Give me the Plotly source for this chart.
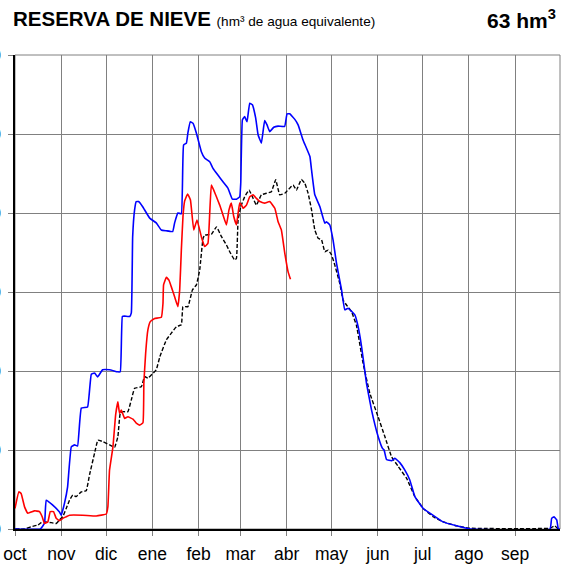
import plotly.graph_objects as go

# Day of hydrological year (0 = 1 Oct) and snow reserve in hm3
MONTH_LABELS = ["oct", "nov", "dic", "ene", "feb", "mar", "abr", "may", "jun", "jul", "ago", "sep"]
MONTH_DAYS = [0, 31, 61, 92, 123, 151, 182, 212, 243, 273, 304, 335]
YEAR_DAYS = 365
Y_TICKS = [0, 20, 40, 60, 80, 100, 120]

BLUE = [(0, 0), (17, 0), (19.8, 1.5), (20.9, 7.3), (25.1, 6.1), (29.8, 4.3), (31, 3.5), (33.2, 6.6),
        (35.2, 10.6), (37.7, 20.8), (39.9, 21.3), (41.9, 21.0), (44.4, 30.6), (48.6, 30.9), (51.1, 39.2),
        (53.3, 39.5), (55.3, 38.5), (58.7, 40.3), (63.3, 40.3), (68.7, 39.8), (70.5, 39.8), (71.9, 53.8),
        (73.4, 53.9), (76.8, 53.8), (77.9, 54.7), (78.8, 74.0), (80.1, 80.8), (81.2, 82.9), (82.8, 82.9),
        (85.5, 81.6), (90.2, 78.7), (94.6, 77.5), (98.0, 75.7), (101.3, 75.5), (105.6, 75.3), (106.9, 77.5),
        (109.1, 80.0), (111.4, 79.8), (112.9, 97.2), (114.8, 97.7), (115.8, 100.3), (117.4, 103.1),
        (119.2, 102.7), (121.5, 100.2), (124.8, 95.5), (127.0, 93.9), (130.4, 93.0), (132.6, 91.3),
        (135.9, 89.6), (139.3, 87.9), (142.6, 86.3), (145.6, 83.5), (148.3, 83.5), (150.5, 84.1),
        (151.2, 87.6), (152.3, 103.6), (153.8, 104.4), (155.4, 103.1), (157.2, 107.8), (159.0, 107.4),
        (161.2, 104.0), (162.8, 99.8), (165.0, 97.7), (167.2, 103.4), (168.8, 102.3), (170.6, 100.6),
        (173.3, 101.7), (176.2, 102.0), (180.6, 101.9), (182.2, 105.1), (184.0, 105.1), (187.4, 103.7),
        (189.6, 102.3), (192.9, 98.5), (197.5, 94.3), (198.6, 90.9), (200.8, 84.6), (204.2, 81.6),
        (207.5, 77.4), (208.6, 77.8), (210.8, 77.0), (213.0, 73.2), (215.3, 67.3), (218.7, 60.5),
        (220.9, 55.5), (223.1, 55.9), (227.6, 54.2), (229.8, 51.2), (232.1, 46.2), (235.4, 36.9),
        (238.8, 30.1), (243.2, 23.4), (246.1, 20.4), (247.2, 20.0), (248.8, 17.6), (252.2, 17.3),
        (254.4, 17.9), (257.7, 16.8), (261.1, 14.9), (264.4, 12.4), (267.8, 8.2), (273.4, 5.2),
        (277.9, 4.0), (286.6, 1.8), (295.7, 0.8), (302.4, 0.2), (304.7, 0), (358.3, 0), (359.4, 2.7),
        (361.0, 3.1), (362.8, 2.3), (363.9, 0), (365, 0)]

RED = [(0, 5.2), (2.6, 9.4), (4.1, 9.0), (6.4, 5.6), (8.6, 4.0), (13.1, 4.6), (16.4, 4.4), (18.2, 3.1),
       (19.8, 1.4), (22.0, 1.8), (23.6, 4.4), (25.8, 4.4), (27.6, 2.7), (29.8, 2.1), (32.0, 2.7),
       (34.3, 3.1), (36.5, 3.5), (45.4, 3.5), (54.4, 3.3), (61.1, 3.8), (62.2, 5.6), (63.3, 14.9),
       (65.6, 20.8), (67.4, 28.9), (68.9, 32.2), (70.0, 29.3), (71.2, 30.1), (73.4, 28.0), (75.6, 28.4),
       (79.0, 27.8), (81.2, 26.8), (83.5, 26.3), (85.7, 26.9), (86.3, 36.9), (87.5, 44.5), (89.0, 50.4),
       (90.6, 52.5), (93.5, 53.3), (98.0, 53.6), (99.1, 57.1), (99.5, 61.8), (101.4, 63.7), (103.1, 63.0),
       (104.7, 61.3), (106.9, 58.8), (109.1, 56.3), (110.3, 60.5), (111.4, 70.6), (112.5, 79.1),
       (113.6, 83.0), (115.6, 84.8), (117.5, 83.3), (119.7, 75.7), (121.9, 78.2), (124.8, 74.0),
       (127.0, 71.5), (129.2, 72.3), (130.4, 79.9), (131.5, 87.1), (133.1, 85.8), (134.9, 84.1),
       (137.1, 82.0), (139.3, 79.5), (141.6, 77.0), (143.3, 80.8), (144.9, 82.5), (146.5, 79.1),
       (148.3, 77.0), (149.4, 79.9), (150.5, 82.5), (151.7, 82.0), (152.8, 81.2), (155.0, 82.0),
       (157.2, 84.1), (159.5, 84.6), (161.7, 83.7), (163.9, 82.9), (167.2, 82.5), (170.6, 82.9),
       (174.0, 81.2), (176.2, 77.8), (178.4, 75.7), (180.7, 69.8), (182.9, 65.1), (184.5, 63.2)]

MEAN = [(0, 0), (6.4, 0), (10.9, 0.6), (15.3, 1.0), (17.6, 1.6), (19.8, 1.8), (24.3, 1.6), (27.6, 1.4),
        (29.8, 2.3), (32.0, 3.1), (34.3, 5.2), (36.5, 7.3), (38.7, 8.6), (41.0, 8.2), (44.4, 9.4),
        (47.7, 9.7), (49.9, 13.7), (53.3, 19.2), (55.5, 22.5), (58.9, 22.1), (63.4, 21.3), (66.7, 20.7),
        (68.9, 23.4), (70.5, 29.3), (72.7, 29.7), (75.6, 29.7), (77.9, 32.7), (80.1, 35.6), (84.6, 36.0),
        (86.8, 38.6), (89.0, 38.2), (91.3, 39.0), (94.6, 40.3), (97.0, 43.6), (101.4, 47.9), (104.7, 49.6),
        (108.1, 51.2), (111.4, 51.7), (112.5, 56.3), (115.8, 56.3), (118.8, 60.5), (121.5, 61.8),
        (123.7, 65.6), (125.9, 73.5), (127.0, 74.4), (131.5, 74.6), (134.9, 76.5), (138.3, 74.0),
        (141.6, 71.9), (143.8, 70.2), (147.1, 68.1), (148.3, 68.5), (149.4, 78.2), (151.2, 81.6),
        (153.8, 84.1), (156.8, 85.8), (159.0, 84.1), (161.7, 82.0), (165.0, 84.6), (168.4, 85.0),
        (171.7, 85.4), (174.6, 88.4), (177.3, 84.6), (180.7, 85.0), (184.0, 86.3), (186.2, 87.1),
        (188.5, 85.8), (191.8, 88.5), (194.1, 87.5), (196.3, 85.0), (198.6, 80.8), (200.8, 75.7),
        (203.0, 73.6), (205.3, 73.2), (207.5, 70.2), (209.7, 70.6), (212.0, 69.4), (214.2, 66.8),
        (217.5, 62.2), (219.7, 58.0), (222.0, 56.7), (225.4, 55.0), (228.7, 51.5), (233.1, 42.0),
        (237.6, 34.4), (243.2, 28.4), (247.7, 23.4), (252.2, 18.3), (256.7, 15.8), (262.3, 12.8),
        (267.8, 8.2), (273.4, 5.2), (280.1, 3.1), (286.8, 1.8), (295.7, 0.8), (304.7, 0.2), (358.3, 0.2),
        (361.5, 0.8), (363.9, 0), (365, 0)]

CURRENT_VALUE = "63"
FONT = "Liberation Sans, Arial, sans-serif"

fig = go.Figure()


def add_series(points, color, dash, width):
    fig.add_trace(go.Scatter(
        x=[p[0] for p in points], y=[p[1] for p in points], mode="lines",
        line=dict(color=color, width=width, dash=dash, shape="spline", smoothing=0.3),
        hoverinfo="x+y", showlegend=False))


add_series(MEAN, "black", "4px,2px", 1.4)
add_series(BLUE, "#0000FF", "solid", 1.6)
add_series(RED, "#FF0000", "solid", 1.6)

fig.update_layout(
    width=568, height=569,
    margin=dict(l=15, r=8, t=55, b=40, autoexpand=False),
    paper_bgcolor="white", plot_bgcolor="white",
    font=dict(family=FONT, color="black", size=17),
    showlegend=False,
    xaxis=dict(range=[0, YEAR_DAYS], tickvals=MONTH_DAYS, ticktext=MONTH_LABELS,
               showgrid=True, gridcolor="#808080", gridwidth=1,
               showline=True, linecolor="black", linewidth=1.5,
               ticks="outside", ticklen=5, tickcolor="#808080",
               ticklabelstandoff=3,
               tickfont=dict(size=17.5, family=FONT), zeroline=False, fixedrange=True),
    yaxis=dict(range=[0, 120], tickvals=Y_TICKS,
               showgrid=True, gridcolor="#808080", gridwidth=1,
               showline=True, linecolor="black", linewidth=1.5,
               ticks="outside", ticklen=5, tickcolor="#808080",
               ticklabelstandoff=4,
               tickfont=dict(size=17, family=FONT), zeroline=False, fixedrange=True),
    shapes=[dict(type="rect", xref="paper", yref="paper", x0=0, x1=1, y0=0, y1=1,
                 line=dict(color="#808080", width=1), layer="below")],
    annotations=[
        dict(xref="paper", yref="paper", x=-0.007, y=1.076, xanchor="left", yanchor="middle",
             showarrow=False,
             text="<b>RESERVA DE NIEVE</b> <span style='font-size:13.6px'>(hm³ de agua equivalente)</span>",
             font=dict(size=20.5, family=FONT, color="black")),
        dict(xref="paper", yref="paper", x=0.997, y=1.076, xanchor="right", yanchor="middle",
             showarrow=False,
             text="<b>" + CURRENT_VALUE + " hm<sup>3</sup></b>",
             font=dict(size=21, family=FONT, color="black")),
    ],
)

fig.write_html("out.html", config={"displayModeBar": False},
               post_script="document.body.style.margin='0';")
